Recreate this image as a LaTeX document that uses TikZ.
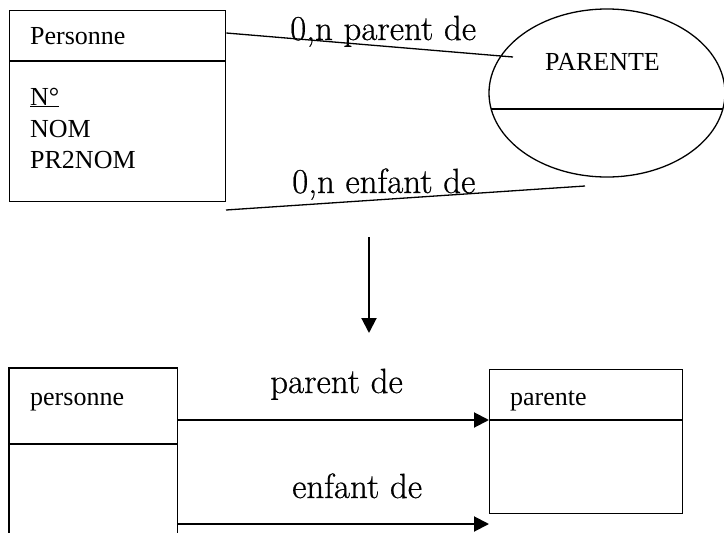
\documentclass[tikz,border=0pt]{standalone}
\usepackage{fontspec}
\setmainfont{Liberation Serif}
\newfontfamily\lmfont[FakeBold=0.6]{Latin Modern Roman}
\usetikzlibrary{shapes.geometric,arrows.meta,calc}
\tikzset{
  box/.style={draw, line width=1.3pt, inner sep=0pt, anchor=north west},
  openbox/.style={inner sep=0pt, anchor=north west},
  txt/.style={inner sep=0pt, anchor=base west, font=\fontsize{26}{31.5}\selectfont},
  lbl/.style={inner sep=0pt, anchor=base west, font=\lmfont\fontsize{35}{40}\selectfont},
  link/.style={line width=1.3pt},
  arr/.style={line width=2pt, -{Triangle[length=15pt,width=15pt]}},
}
\begin{document}
\begin{tikzpicture}[x=1pt,y=-1pt]
\useasboundingbox (0,0) rectangle (724,533);
% top entity
\node[box, minimum width=216pt, minimum height=191.5pt] (pers) at (9,9.5) {};
\draw[link] ($(pers.north west)+(0,51.5)$) -- ($(pers.north east)+(0,51.5)$);
\node[txt] (persT) at (30,44) {Personne};
\node[txt] (num) at (30,105) {\underline{N°}};
\node[txt] (nom) at (30,137) {NOM};
\node[txt] (prenom) at (30,168) {PR2NOM};
% association
\node[draw, line width=1.3pt, ellipse, inner sep=0pt, minimum width=236pt, minimum height=168pt] (ass) at (607,93) {};
\draw[link] ($(ass.center)+(-115.8,16)$) -- ($(ass.center)+(115.8,16)$);
\node[txt] (assT) at (545,70) {PARENTE};
% links
\coordinate (a1) at ($(pers.north east)+(0,23.5)$);
\coordinate (b1) at (513,57);
\coordinate (a2) at (226,210);
\coordinate (b2) at (585,186);
\draw[link] (a1) -- (b1);
\draw[link] (a2) -- (b2);
\node[lbl] (l1) at (290,40) {0,n parent de};
\node[lbl] (l2) at (292,193) {0,n enfant de};
% transformation arrow
\coordinate (d1) at (369,237);
\coordinate (d2) at (369,333);
\draw[arr] (d1) -- (d2);
% bottom boxes
\node[openbox, minimum width=168pt, minimum height=165pt] (pers2) at (9,368) {};
\draw[link] (pers2.south west) |- (pers2.north east) -- (pers2.south east);
\draw[link] ($(pers2.north west)+(0,76)$) -- ($(pers2.north east)+(0,76)$);
\node[txt] (pers2T) at (30,405) {personne};
\node[box, minimum width=193pt, minimum height=144pt] (par2) at (489,369) {};
\draw[link] ($(par2.north west)+(0,51)$) -- ($(par2.north east)+(0,51)$);
\node[txt] (par2T) at (510,405) {parente};
\coordinate (s1) at ($(pers2.north east)+(0,52)$);
\coordinate (e1) at ($(par2.north west)+(0,51)$);
\coordinate (s2) at ($(pers2.north east)+(0,156)$);
\coordinate (e2) at (489,524);
\draw[arr] (s1) -- (e1);
\draw[arr] (s2) -- (e2);
\node[lbl] (l3) at (270,393) {parent de};
\node[lbl] (l4) at (292,498) {enfant de};
\end{tikzpicture}
\end{document}
